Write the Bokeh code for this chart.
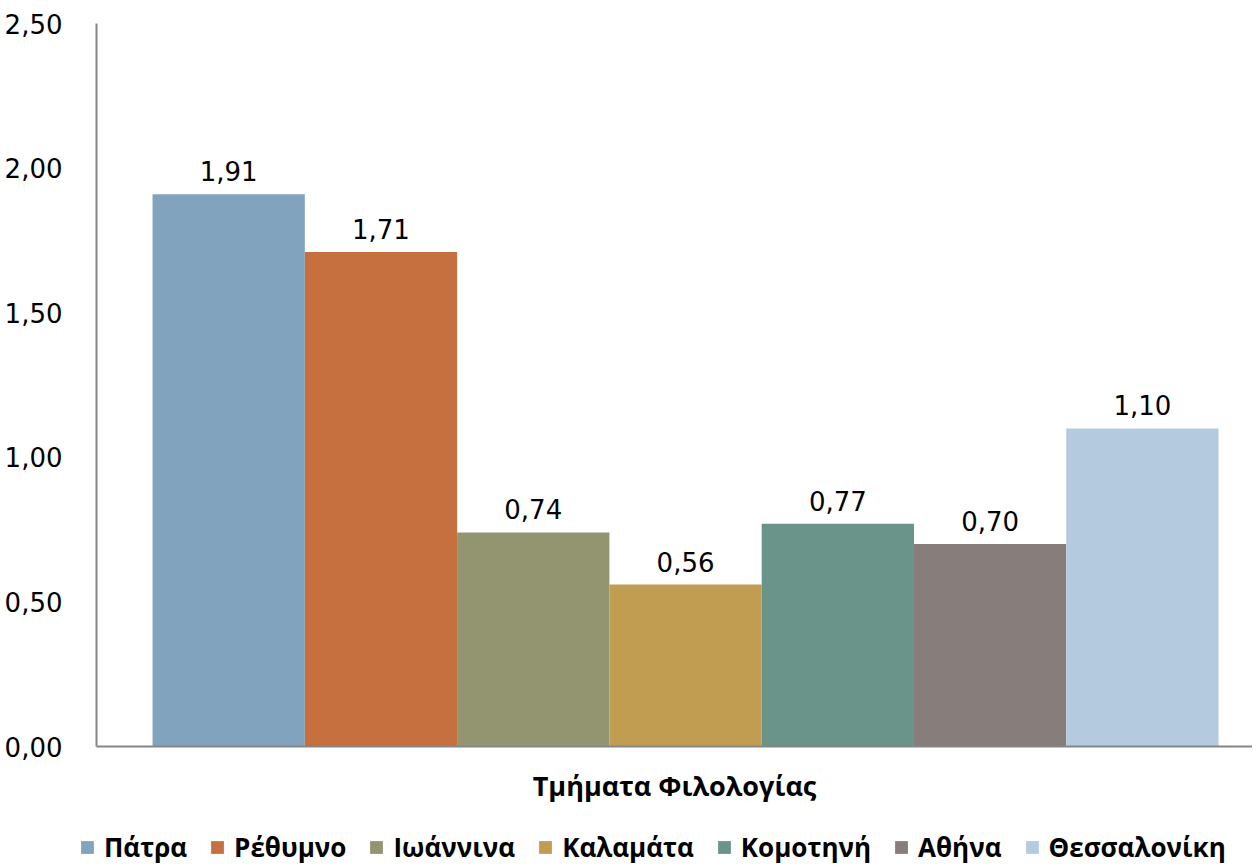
from bokeh.plotting import figure
from bokeh.layouts import column
from bokeh.models import (Range1d, CustomJSTickFormatter, FixedTicker, Legend, LegendItem,
                          ColumnDataSource)
from bokeh.core.properties import value
from bokeh.embed import file_html
from bokeh.resources import INLINE

cities = ["Πάτρα", "Ρέθυμνο", "Ιωάννινα", "Καλαμάτα", "Κομοτηνή", "Αθήνα", "Θεσσαλονίκη"]
values = [1.91, 1.71, 0.74, 0.56, 0.77, 0.70, 1.10]
colors = ["#82A3BD", "#C5703E", "#939570", "#C19D51", "#6A9389", "#877D7B", "#B4CADF"]
x_title = "Τμήματα Φιλολογίας"
y_ticks = [0.0, 0.5, 1.0, 1.5, 2.0, 2.5]

NUM_FONT = "DejaVu Sans"
BOLD_FONT = "Open Sans"

p = figure(frame_width=1156, frame_height=723, output_backend="svg", toolbar_location=None,
           x_range=Range1d(-0.868, 6.723), y_range=Range1d(0, 2.5),
           min_border_left=96, min_border_right=0, min_border_top=23, min_border_bottom=60)
p.outline_line_color = None
p.xgrid.grid_line_color = None
p.ygrid.grid_line_color = None
p.background_fill_color = "white"
p.border_fill_color = "white"

# legend strip (separate figure; its renderers are hidden, they only feed the legend)
p2 = figure(frame_width=1252, frame_height=59, output_backend="svg", toolbar_location=None,
            x_range=Range1d(-1, 7), y_range=Range1d(0, 2.5),
            min_border_left=0, min_border_right=0, min_border_top=0, min_border_bottom=0,
            x_axis_location=None, y_axis_location=None)
p2.outline_line_color = None
p2.xgrid.grid_line_color = None
p2.ygrid.grid_line_color = None

items = []
for i, (c, v, col) in enumerate(zip(cities, values, colors)):
    src = ColumnDataSource(dict(x=[i], top=[v], lab=[f"{v:.2f}".replace(".", ",")]))
    p.vbar(x="x", top="top", width=1.0, bottom=0, source=src,
           fill_color=col, line_color=None)
    p.text(x="x", y="top", text="lab", source=src, text_align="center",
           text_baseline="bottom", y_offset=-13,
           text_font=value(NUM_FONT), text_font_size="26px", text_color="black")
    r2 = p2.vbar(x="x", top="top", width=1.0, bottom=0, source=src,
                 fill_color=col, line_color=None, visible=False)
    items.append(LegendItem(label=c, renderers=[r2]))

# y axis
ya = p.yaxis[0]
ya.ticker = FixedTicker(ticks=y_ticks)
ya.formatter = CustomJSTickFormatter(code="return tick.toFixed(2).replace('.', ',');")
ya.axis_line_color = "#868686"
ya.axis_line_width = 2
ya.major_tick_line_color = None
ya.minor_tick_line_color = None
ya.major_label_standoff = 28
ya.major_label_text_font = NUM_FONT
ya.major_label_text_font_size = "26px"
ya.major_label_text_color = "black"

# x axis
xa = p.xaxis[0]
xa.ticker = FixedTicker(ticks=[])
xa.axis_line_color = "#868686"
xa.axis_line_width = 2
xa.major_tick_line_color = None
xa.minor_tick_line_color = None
xa.major_label_text_font_size = "0px"
xa.axis_label = x_title
xa.axis_label_text_font = BOLD_FONT
xa.axis_label_text_font_style = "bold"
xa.axis_label_text_font_size = "27px"
xa.axis_label_text_color = "black"
xa.axis_label_standoff = 20

legend = Legend(items=items, orientation="horizontal", location=(79, 0),
                click_policy="none",
                label_text_font=BOLD_FONT, label_text_font_style="bold",
                label_text_font_size="26px", label_text_color="black",
                glyph_width=16, glyph_height=16, label_standoff=9, spacing=22,
                border_line_color=None, background_fill_alpha=0,
                padding=0, margin=0)
p2.add_layout(legend, "center")

layout = column(p, p2, spacing=0)
open("out.html", "w").write(file_html(layout, INLINE))
